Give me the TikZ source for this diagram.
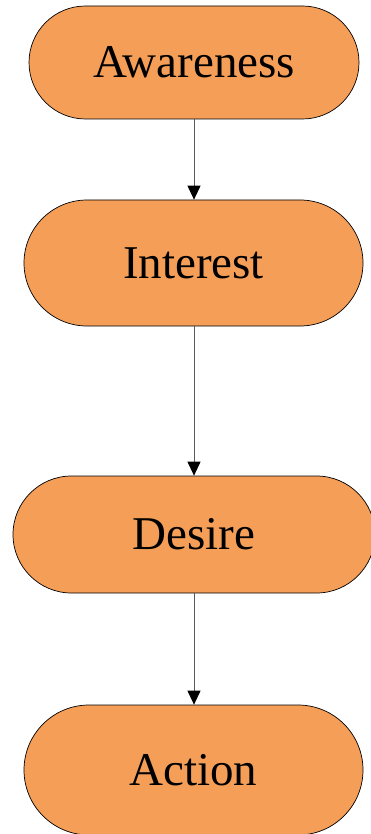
\documentclass[tikz,border=0pt]{standalone}
\usepackage{fontspec}
\setmainfont{Liberation Serif}
\usetikzlibrary{arrows.meta}
\definecolor{boxfill}{RGB}{244,158,88}
\definecolor{linegray}{RGB}{90,90,90}
\tikzset{
  stadium/.style={draw=black, line width=0.7pt, fill=boxfill, inner sep=0pt,
    font=\fontsize{47}{50}\selectfont},
  flowarrow/.style={draw=linegray, line width=1pt,
    -{Triangle[width=13pt,length=14pt,fill=black,color=black]}}
}
\begin{document}
\begin{tikzpicture}
\useasboundingbox (0,0) rectangle (370pt,-834pt);
\node[stadium, minimum width=330pt, minimum height=113pt, rounded corners=56.5pt] (aw) at (194pt,-62.5pt) {Awareness};
\node[stadium, minimum width=339pt, minimum height=126pt, rounded corners=63pt] (in) at (193.5pt,-263pt) {Interest};
\node[stadium, minimum width=362pt, minimum height=117pt, rounded corners=58.5pt] (de) at (194pt,-534.5pt) {Desire};
\node[stadium, minimum width=339pt, minimum height=130pt, rounded corners=65pt] (ac) at (193.5pt,-770pt) {Action};
\draw[flowarrow] (aw.south -| 194pt,0) -- (in.north -| 194pt,0);
\draw[flowarrow] (in.south -| 194pt,0) -- (de.north -| 194pt,0);
\draw[flowarrow] (de.south -| 194pt,0) -- (ac.north -| 194pt,0);
\end{tikzpicture}
\end{document}
